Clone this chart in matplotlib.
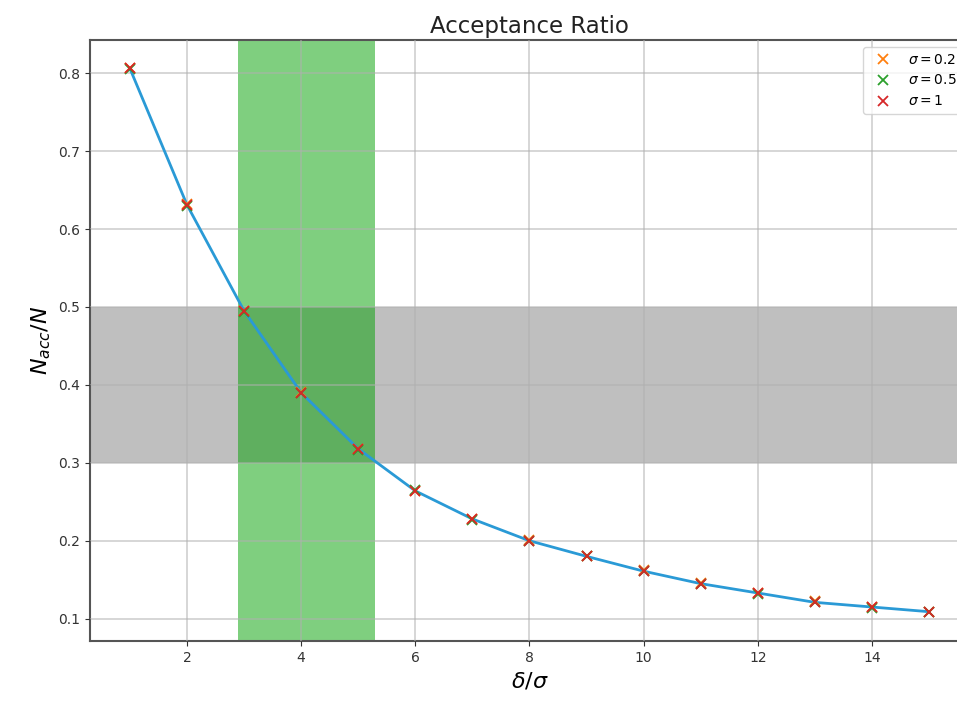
import matplotlib
matplotlib.use("Agg")
import matplotlib.pyplot as plt
import numpy as np

steps = [1, 2, 3, 4, 5, 6, 7, 8, 9, 10, 11, 12, 13, 14, 15]
acc_s02 = [0.806, 0.632, 0.495, 0.391, 0.318, 0.264, 0.228, 0.201, 0.181, 0.162, 0.146, 0.133, 0.123, 0.115, 0.109]
acc_s05 = [0.805, 0.630, 0.494, 0.390, 0.317, 0.265, 0.227, 0.200, 0.180, 0.161, 0.145, 0.132, 0.122, 0.114, 0.108]
acc_s1 = [0.806, 0.631, 0.495, 0.390, 0.318, 0.264, 0.228, 0.200, 0.180, 0.161, 0.145, 0.133, 0.121, 0.115, 0.109]
labels = [r"$\sigma = 0.2$", r"$\sigma = 0.5$", r"$\sigma = 1$"]
band_y = (0.3, 0.5)
band_x = (2.9, 5.3)

fig = plt.figure(figsize=(9.57, 7.02), dpi=100)
ax = fig.add_axes([0.094, 0.087, 0.9185, 0.856])

ax.axhspan(band_y[0], band_y[1], color="#808080", alpha=0.5, lw=0, zorder=1)
ax.axvspan(band_x[0], band_x[1], color="#00a000", alpha=0.5, lw=0, zorder=1.1)

ax.plot(steps, acc_s1, color="#2a9ad6", lw=2, zorder=3)
ax.plot(steps, acc_s02, "x", color="C1", ms=6.5, mew=1.3, label=labels[0], zorder=4)
ax.plot(steps, acc_s05, "x", color="C2", ms=6.5, mew=1.3, label=labels[1], zorder=4)
ax.plot(steps, acc_s1, "x", color="C3", ms=6.5, mew=1.3, label=labels[2], zorder=4)

ax.grid(True, color="#b0b0b0", lw=1.2, alpha=0.6, zorder=2)
ax.set_axisbelow(False)
ax.set_xlim(0.3, 15.7)
ax.set_ylim(0.0715, 0.8425)
ax.set_xticks([2, 4, 6, 8, 10, 12, 14])
ax.set_yticks([0.1, 0.2, 0.3, 0.4, 0.5, 0.6, 0.7, 0.8])
ax.tick_params(labelsize=10, colors="#333333")
for s in ax.spines.values():
    s.set_color("#555555")
    s.set_linewidth(1.5)
ax.spines["right"].set_visible(False)

ax.set_title("Acceptance Ratio", fontsize=16.5, color="#222222", pad=5)
ax.set_xlabel(r"$\delta/\sigma$", fontsize=16)
ax.set_ylabel(r"$N_{acc}/N$", fontsize=16)
ax.legend(loc="upper right", fontsize=10)

fig.savefig("out.png", dpi=100)
